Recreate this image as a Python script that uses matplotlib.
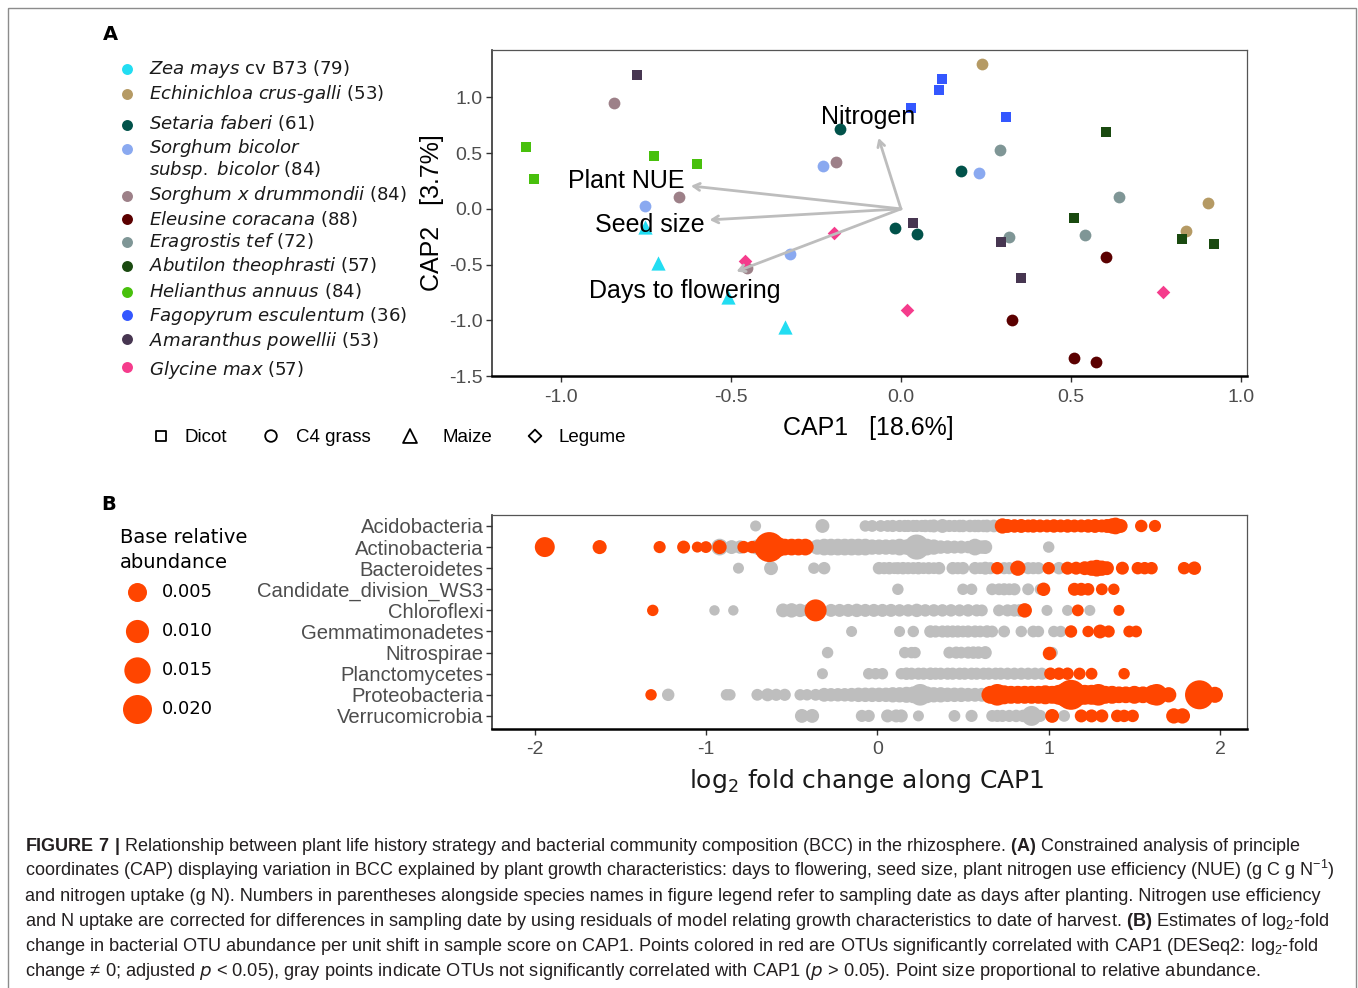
import numpy as np
import matplotlib
matplotlib.use("Agg")
import matplotlib.pyplot as plt
from matplotlib import font_manager
from matplotlib.patches import Rectangle

## panel A: CAP sample scores

zea_cap1 = [-0.753, -0.716, -0.509, -0.341]
zea_cap2 = [-0.161, -0.484, -0.789, -1.058]
echin_cap1 = [0.237, 0.902, 0.838]
echin_cap2 = [1.300, 0.054, -0.195]
setaria_cap1 = [-0.179, 0.176, -0.018, 0.046]
setaria_cap2 = [0.717, 0.341, -0.170, -0.224]
sbicolor_cap1 = [-0.754, -0.230, 0.229, -0.327]
sbicolor_cap2 = [0.030, 0.388, 0.326, -0.404]
sdrumm_cap1 = [-0.844, -0.191, -0.654, -0.454]
sdrumm_cap2 = [0.951, 0.422, 0.108, -0.529]
eleusine_cap1 = [0.602, 0.326, 0.509, 0.574]
eleusine_cap2 = [-0.430, -0.996, -1.336, -1.370]
eragrostis_cap1 = [0.290, 0.641, 0.318, 0.540]
eragrostis_cap2 = [0.529, 0.110, -0.248, -0.233]
abutilon_cap1 = [0.602, 0.509, 0.826, 0.921]
abutilon_cap2 = [0.691, -0.078, -0.269, -0.314]
helianthus_cap1 = [-1.104, -1.080, -0.726, -0.599]
helianthus_cap2 = [0.559, 0.269, 0.475, 0.404]
fagopyrum_cap1 = [0.029, 0.113, 0.121, 0.310]
fagopyrum_cap2 = [0.908, 1.067, 1.169, 0.825]
amaranthus_cap1 = [-0.776, 0.034, 0.294, 0.352]
amaranthus_cap2 = [1.202, -0.126, -0.296, -0.619]
glycine_cap1 = [-0.459, -0.197, 0.018, 0.772]
glycine_cap2 = [-0.466, -0.213, -0.912, -0.742]

species_cap1 = [zea_cap1, echin_cap1, setaria_cap1, sbicolor_cap1, sdrumm_cap1, eleusine_cap1,
                eragrostis_cap1, abutilon_cap1, helianthus_cap1, fagopyrum_cap1, amaranthus_cap1, glycine_cap1]
species_cap2 = [zea_cap2, echin_cap2, setaria_cap2, sbicolor_cap2, sdrumm_cap2, eleusine_cap2,
                eragrostis_cap2, abutilon_cap2, helianthus_cap2, fagopyrum_cap2, amaranthus_cap2, glycine_cap2]
species_colors = ["#22DDF2", "#B59A64", "#01524A", "#8AA9F0", "#9D8088", "#5B0000",
                  "#7F9696", "#1A4A10", "#48C00C", "#3457FF", "#473651", "#F53C8C"]
species_groups = ["Maize", "C4 grass", "C4 grass", "C4 grass", "C4 grass", "C4 grass",
                  "C4 grass", "Dicot", "Dicot", "Dicot", "Dicot", "Legume"]
species_labels = [
    [r"$\mathit{Zea\ mays}$ cv B73 (79)"],
    [r"$\mathit{Echinichloa\ crus}$-$\mathit{galli}$ (53)"],
    [r"$\mathit{Setaria\ faberi}$ (61)"],
    [r"$\mathit{Sorghum\ bicolor}$", r"$\mathit{subsp.\ bicolor}$ (84)"],
    [r"$\mathit{Sorghum\ x\ drummondii}$ (84)"],
    [r"$\mathit{Eleusine\ coracana}$ (88)"],
    [r"$\mathit{Eragrostis\ tef}$ (72)"],
    [r"$\mathit{Abutilon\ theophrasti}$ (57)"],
    [r"$\mathit{Helianthus\ annuus}$ (84)"],
    [r"$\mathit{Fagopyrum\ esculentum}$ (36)"],
    [r"$\mathit{Amaranthus\ powellii}$ (53)"],
    [r"$\mathit{Glycine\ max}$ (57)"],
]

group_names = ["Dicot", "C4 grass", "Maize", "Legume"]
group_markers = ["s", "o", "^", "D"]

# biplot vectors of the growth characteristics
arrow_names = ["Nitrogen", "Plant NUE", "Seed size", "Days to flowering"]
arrow_cap1 = [-0.066, -0.618, -0.563, -0.484]
arrow_cap2 = [0.637, 0.206, -0.099, -0.562]
arrow_label_cap1 = [-0.097, -0.809, -0.738, -0.635]
arrow_label_cap2 = [0.825, 0.251, -0.143, -0.735]

## panel B: log2 fold change along CAP1, (estimate, base relative abundance)

phyla = ["Acidobacteria", "Actinobacteria", "Bacteroidetes", "Candidate_division_WS3", "Chloroflexi",
         "Gemmatimonadetes", "Nitrospirae", "Planctomycetes", "Proteobacteria", "Verrucomicrobia"]

acido_grey = [(-0.71, 0.0002), (-0.32, 0.0012), (-0.07, 0.0003), (-0.03, 0.0004), (0.02, 0.0004),
              (0.06, 0.0004), (0.09, 0.0005), (0.13, 0.0005), (0.16, 0.0005), (0.18, 0.0005),
              (0.21, 0.0005), (0.23, 0.0005), (0.26, 0.0005), (0.28, 0.0006), (0.31, 0.0006),
              (0.33, 0.0008), (0.38, 0.0012), (0.42, 0.0005), (0.45, 0.0005), (0.48, 0.0006),
              (0.50, 0.0006), (0.54, 0.0006), (0.57, 0.0006), (0.59, 0.0006), (0.62, 0.0006),
              (0.64, 0.0007), (0.68, 0.0007)]
acido_red = [(0.73, 0.002), (0.76, 0.0012), (0.80, 0.001), (0.84, 0.0012), (0.88, 0.0008), (0.91, 0.001),
             (0.95, 0.0008), (0.99, 0.0008), (1.03, 0.001), (1.07, 0.0008), (1.11, 0.001), (1.15, 0.0008),
             (1.19, 0.0008), (1.23, 0.001), (1.27, 0.0012), (1.31, 0.0008), (1.34, 0.0012), (1.37, 0.002),
             (1.39, 0.003), (1.42, 0.0012), (1.54, 0.0006), (1.62, 0.0005)]

actino_grey = [(-0.92, 0.003), (-0.85, 0.0012), (-0.80, 0.001), (-0.70, 0.002), (-0.60, 0.002),
               (-0.35, 0.002), (-0.31, 0.003), (-0.27, 0.003), (-0.23, 0.003), (-0.19, 0.003),
               (-0.15, 0.003), (-0.11, 0.003), (-0.07, 0.003), (-0.03, 0.002), (0.01, 0.002),
               (0.05, 0.002), (0.09, 0.002), (0.13, 0.003), (0.17, 0.002), (0.20, 0.004),
               (0.23, 0.013), (0.29, 0.003), (0.33, 0.002), (0.37, 0.001), (0.41, 0.001),
               (0.45, 0.0008), (0.49, 0.0008), (0.53, 0.0006), (0.57, 0.003), (0.61, 0.001),
               (0.63, 0.0012), (1.00, 0.0003)]
actino_red = [(-1.94, 0.006), (-1.62, 0.0013), (-1.27, 0.0005), (-1.13, 0.0008), (-1.05, 0.0002),
              (-1.00, 0.0004), (-0.92, 0.0013), (-0.78, 0.0006), (-0.73, 0.0006), (-0.69, 0.001),
              (-0.66, 0.004), (-0.63, 0.022), (-0.58, 0.006), (-0.54, 0.003), (-0.50, 0.003),
              (-0.46, 0.003), (-0.42, 0.003)]

bactero_grey = [(-0.81, 0.0002), (-0.62, 0.0012), (-0.37, 0.0003), (-0.31, 0.0006), (0.01, 0.0006),
                (0.04, 0.0005), (0.07, 0.0006), (0.10, 0.0004), (0.12, 0.0005), (0.15, 0.0006),
                (0.18, 0.0005), (0.21, 0.0005), (0.24, 0.0006), (0.27, 0.0004), (0.30, 0.0005),
                (0.33, 0.0004), (0.36, 0.0006), (0.44, 0.0006), (0.47, 0.0005), (0.50, 0.0006),
                (0.57, 0.0006), (0.60, 0.0004), (0.63, 0.0008), (0.66, 0.0005), (0.74, 0.0005),
                (0.77, 0.0005), (0.88, 0.0005), (0.91, 0.0005), (0.94, 0.0005), (1.06, 0.0006)]
bactero_red = [(0.70, 0.0006), (0.82, 0.002), (1.00, 0.0006), (1.11, 0.0008), (1.16, 0.0008),
               (1.21, 0.0012), (1.25, 0.002), (1.28, 0.003), (1.31, 0.002), (1.34, 0.0012),
               (1.43, 0.0008), (1.52, 0.0006), (1.56, 0.0006), (1.60, 0.0006), (1.79, 0.0006),
               (1.85, 0.001)]

ws3_grey = [(0.12, 0.0003), (0.50, 0.0003), (0.55, 0.0003), (0.67, 0.0004), (0.71, 0.0004),
            (0.74, 0.0005), (0.77, 0.0004), (0.80, 0.0005), (0.88, 0.0004), (0.95, 0.0002)]
ws3_red = [(0.97, 0.001), (1.15, 0.0008), (1.19, 0.0008), (1.23, 0.0006), (1.31, 0.0004), (1.38, 0.0003)]

chloro_grey = [(-0.95, 0.0001), (-0.84, 0.0001), (-0.55, 0.0012), (-0.50, 0.0015), (-0.45, 0.001),
               (-0.40, 0.001), (-0.27, 0.0008), (-0.22, 0.0008), (-0.17, 0.0008), (-0.12, 0.001),
               (-0.07, 0.0008), (-0.02, 0.0008), (0.03, 0.0008), (0.08, 0.0008), (0.13, 0.0006),
               (0.18, 0.0006), (0.23, 0.001), (0.28, 0.0006), (0.33, 0.0006), (0.38, 0.0006),
               (0.43, 0.0006), (0.48, 0.0005), (0.53, 0.0006), (0.58, 0.0005), (0.61, 0.0004),
               (0.71, 0.0004), (0.76, 0.0005), (0.80, 0.0006), (0.83, 0.0006), (0.99, 0.0002),
               (1.11, 0.0002), (1.24, 0.0002)]
chloro_red = [(-1.31, 0.0003), (-0.36, 0.0085), (0.86, 0.0015), (1.17, 0.0004), (1.41, 0.0002)]

gemma_grey = [(-0.15, 0.0002), (0.13, 0.0002), (0.21, 0.0003), (0.31, 0.0006), (0.34, 0.0005),
              (0.38, 0.0005), (0.41, 0.0005), (0.44, 0.0005), (0.47, 0.0005), (0.50, 0.0004),
              (0.53, 0.0005), (0.57, 0.0005), (0.60, 0.0004), (0.64, 0.0006), (0.67, 0.0004),
              (0.74, 0.0004), (0.84, 0.0003), (0.91, 0.0004), (0.94, 0.0003), (1.03, 0.0003),
              (1.07, 0.0003)]
gemma_red = [(1.13, 0.0006), (1.23, 0.0003), (1.30, 0.0012), (1.35, 0.0005), (1.47, 0.0004), (1.51, 0.0004)]

nitro_grey = [(-0.29, 0.0003), (0.16, 0.0003), (0.20, 0.0003), (0.22, 0.0003), (0.42, 0.0004),
              (0.46, 0.0005), (0.49, 0.0004), (0.53, 0.0005), (0.56, 0.0006), (0.59, 0.0006),
              (0.63, 0.0008), (1.02, 0.0003)]
nitro_red = [(1.00, 0.001)]

planc_grey = [(-0.32, 0.0002), (-0.05, 0.0003), (-0.01, 0.0003), (0.03, 0.0003), (0.14, 0.0003),
              (0.17, 0.0006), (0.20, 0.0005), (0.24, 0.0005), (0.27, 0.0005), (0.31, 0.0006),
              (0.34, 0.0005), (0.37, 0.0005), (0.41, 0.0005), (0.44, 0.0005), (0.48, 0.0005),
              (0.51, 0.0005), (0.55, 0.0005), (0.58, 0.0005), (0.62, 0.0005), (0.65, 0.0005),
              (0.69, 0.0005), (0.72, 0.0005), (0.76, 0.0005), (0.80, 0.0005), (0.84, 0.0005),
              (0.88, 0.0005), (0.92, 0.0005), (0.96, 0.0005)]
planc_red = [(1.01, 0.0006), (1.06, 0.0006), (1.11, 0.0006), (1.18, 0.0005), (1.25, 0.0004), (1.44, 0.0003)]

proteo_grey = [(-1.22, 0.0006), (-0.88, 0.0003), (-0.86, 0.0003), (-0.70, 0.0004), (-0.64, 0.0008),
               (-0.59, 0.0005), (-0.54, 0.0005), (-0.45, 0.0003), (-0.41, 0.0003), (-0.36, 0.0004),
               (-0.31, 0.0012), (-0.27, 0.001), (-0.23, 0.001), (-0.19, 0.001), (-0.15, 0.0012),
               (-0.11, 0.0015), (-0.07, 0.0015), (-0.03, 0.0015), (0.01, 0.0015), (0.05, 0.0015),
               (0.09, 0.002), (0.13, 0.002), (0.17, 0.0025), (0.21, 0.003), (0.25, 0.008),
               (0.29, 0.003), (0.33, 0.002), (0.37, 0.002), (0.41, 0.0015), (0.45, 0.0015),
               (0.49, 0.0015), (0.53, 0.0012), (0.57, 0.0012), (0.61, 0.0012), (0.65, 0.001)]
proteo_red = [(-1.32, 0.0003), (0.66, 0.004), (0.70, 0.008), (0.74, 0.005), (0.78, 0.004), (0.82, 0.004),
              (0.86, 0.004), (0.90, 0.004), (0.94, 0.004), (0.98, 0.005), (1.02, 0.004), (1.06, 0.006),
              (1.10, 0.012), (1.13, 0.022), (1.17, 0.008), (1.21, 0.006), (1.25, 0.006), (1.29, 0.008),
              (1.33, 0.004), (1.37, 0.004), (1.41, 0.003), (1.45, 0.003), (1.50, 0.004), (1.55, 0.003),
              (1.61, 0.006), (1.63, 0.008), (1.70, 0.002), (1.88, 0.020), (1.97, 0.0025)]

verruco_grey = [(-0.44, 0.0012), (-0.38, 0.0012), (-0.09, 0.0005), (-0.05, 0.0005), (0.06, 0.0008),
                (0.11, 0.0008), (0.14, 0.0008), (0.24, 0.0002), (0.45, 0.0004), (0.55, 0.0005),
                (0.67, 0.0004), (0.70, 0.0005), (0.73, 0.0005), (0.77, 0.0005), (0.81, 0.0006),
                (0.85, 0.0006), (0.90, 0.006), (0.95, 0.0005), (1.09, 0.0004)]
verruco_red = [(1.02, 0.0012), (1.19, 0.0008), (1.25, 0.0008), (1.31, 0.0008), (1.40, 0.0006),
               (1.44, 0.0006), (1.49, 0.0006), (1.73, 0.002), (1.78, 0.002)]

phyla_grey = [acido_grey, actino_grey, bactero_grey, ws3_grey, chloro_grey,
              gemma_grey, nitro_grey, planc_grey, proteo_grey, verruco_grey]
phyla_red = [acido_red, actino_red, bactero_red, ws3_red, chloro_red,
             gemma_red, nitro_red, planc_red, proteo_red, verruco_red]

size_breaks = [0.005, 0.010, 0.015, 0.020]
size_labels = ["0.005", "0.010", "0.015", "0.020"]

caption_lines = [
    r"$\mathbf{FIGURE\ 7\ |}$ Relationship between plant life history strategy and bacterial community composition (BCC) in the rhizosphere. $\mathbf{(A)}$ Constrained analysis of principle",
    r"coordinates (CAP) displaying variation in BCC explained by plant growth characteristics: days to flowering, seed size, plant nitrogen use efficiency (NUE) (g C g N$^{\mathregular{-1}}$)",
    r"and nitrogen uptake (g N). Numbers in parentheses alongside species names in figure legend refer to sampling date as days after planting. Nitrogen use efficiency",
    r"and N uptake are corrected for differences in sampling date by using residuals of model relating growth characteristics to date of harvest. $\mathbf{(B)}$ Estimates of log$_{\mathregular{2}}$-fold",
    r"change in bacterial OTU abundance per unit shift in sample score on CAP1. Points colored in red are OTUs significantly correlated with CAP1 (DESeq2: log$_{\mathregular{2}}$-fold",
    r"change ≠ 0; adjusted $p$ < 0.05), gray points indicate OTUs not significantly correlated with CAP1 ($p$ > 0.05). Point size proportional to relative abundance.",
]
caption_right = [1300, 1335, 1317, 1328, 1312, 1258]


def has_font(name):
    try:
        font_manager.findfont(font_manager.FontProperties(family=name), fallback_to_default=False)
        return True
    except ValueError:
        return False


cap_family = "Liberation Sans Narrow" if has_font("Liberation Sans Narrow") else "Liberation Sans"
sans = "Liberation Sans"
plt.rcParams.update({
    "mathtext.fontset": "custom",
    "mathtext.it": "DejaVu Sans:italic",
    "mathtext.bf": cap_family + ":bold",
    "mathtext.rm": cap_family,
})


def dot_area(a):
    # ggplot area scale: diameter linear in sqrt(abundance)
    d_px = 9 + 141.4 * np.sqrt(np.asarray(a))
    return (d_px * 0.72) ** 2


W, H = 1358, 988
fig = plt.figure(figsize=(W / 100, H / 100), dpi=100)
renderer = fig.canvas.get_renderer()


def axes_px(x0, y0, x1, y1):
    return fig.add_axes([x0 / W, 1 - y1 / H, (x1 - x0) / W, (y1 - y0) / H])


def style_axes(ax):
    for side in ["top", "right"]:
        ax.spines[side].set_color("#555555")
        ax.spines[side].set_linewidth(0.9)
    ax.spines["left"].set_color("#333333")
    ax.spines["left"].set_linewidth(1.2)
    ax.spines["bottom"].set_color("black")
    ax.spines["bottom"].set_linewidth(1.8)
    ax.tick_params(length=4, width=1, color="#333333", labelcolor="#4D4D4D", labelsize=14, pad=3)
    ax.tick_params(axis="x", pad=5)
    for lab in ax.get_xticklabels() + ax.get_yticklabels():
        lab.set_family(sans)


## panel A
ax = axes_px(492, 50, 1247, 376)
for xs, ys, col, grp in zip(species_cap1, species_cap2, species_colors, species_groups):
    m = group_markers[group_names.index(grp)]
    sz = {"s": 62, "o": 72, "^": 105, "D": 48}[m]
    ax.scatter(xs, ys, marker=m, s=sz, color=col, linewidths=0, zorder=2)
for name, ux, uy, lx, ly in zip(arrow_names, arrow_cap1, arrow_cap2, arrow_label_cap1, arrow_label_cap2):
    ax.annotate("", xy=(ux, uy), xytext=(0, 0),
                arrowprops=dict(arrowstyle="->,head_length=0.45,head_width=0.25", color="#BDBDBD",
                                lw=2, shrinkA=0, shrinkB=0), zorder=3)
    ax.text(lx, ly, name, ha="center", va="center", fontsize=18, family=sans, color="black", zorder=4)
ax.set_xlim(-1.203, 1.018)
ax.set_ylim(-1.5, 1.426)
ax.set_xticks([-1.0, -0.5, 0.0, 0.5, 1.0])
ax.set_yticks([-1.5, -1.0, -0.5, 0.0, 0.5, 1.0])
ax.set_xticklabels(["-1.0", "-0.5", "0.0", "0.5", "1.0"])
ax.set_yticklabels(["-1.5", "-1.0", "-0.5", "0.0", "0.5", "1.0"])
style_axes(ax)

## panel B
bx = axes_px(492, 515, 1247, 729)
for i, pts in enumerate(phyla_grey):
    xs = [p[0] for p in pts]
    bx.scatter(xs, [i] * len(xs), s=dot_area([p[1] for p in pts]), color="#BEBEBE", linewidths=0, zorder=2)
for i, pts in enumerate(phyla_red):
    xs = [p[0] for p in pts]
    bx.scatter(xs, [i] * len(xs), s=dot_area([p[1] for p in pts]), color="#FF4500", linewidths=0, zorder=3)
bx.set_xlim(-2.248, 2.157)
bx.set_ylim(9.62, -0.52)
bx.set_xticks([-2, -1, 0, 1, 2])
bx.set_xticklabels(["-2", "-1", "0", "1", "2"])
bx.set_yticks(range(len(phyla)))
bx.set_yticklabels(phyla)
style_axes(bx)
bx.tick_params(axis="y", labelsize=14.6, pad=2)

## overlay for legends, labels, frame and caption (pixel coordinates)
lax = fig.add_axes([0, 0, 1, 1])
lax.set_xlim(0, W)
lax.set_ylim(H, 0)
lax.axis("off")

lax.text(103, 35, "A", fontsize=14, fontweight="bold", family="DejaVu Sans", va="center")
lax.text(101, 504, "B", fontsize=14, fontweight="bold", family="DejaVu Sans", va="center")

marker_y = [69, 94, 125, 149, 196, 219, 242, 266, 292, 315, 339, 367]
text_y = [[69], [94], [123], [148, 170], [195], [219], [242], [266], [291], [316], [341], [370]]
for col, my, lbls, tys in zip(species_colors, marker_y, species_labels, text_y):
    lax.scatter([127], [my], s=62, color=col, linewidths=0)
    for lbl, ty in zip(lbls, tys):
        lax.text(149, ty, lbl, fontsize=13.1, family="DejaVu Sans", color="#1A1A1A", va="center")

lax.text(432, 213, "CAP2   [3.7%]", rotation=90, fontsize=18, family=sans, ha="center", va="center")
lax.text(868, 428, "CAP1   [18.6%]", fontsize=18, family=sans, ha="center", va="center")

shape_x = [161, 271, 410, 535]
shape_text_x = [185, 296, 443, 558]
shape_sz = {"s": 55, "o": 70, "^": 100, "D": 42}
for gx, tx, g, m in zip(shape_x, shape_text_x, group_names, group_markers):
    lax.scatter([gx], [436], marker=m, s=shape_sz[m], facecolors="none", edgecolors="black", linewidths=1.3)
    lax.text(tx, 437, g, fontsize=13.5, family=sans, va="center")

lax.text(120, 537, "Base relative", fontsize=14, family="DejaVu Sans", va="center")
lax.text(120, 562, "abundance", fontsize=14, family="DejaVu Sans", va="center")
for k, (b, lb) in enumerate(zip(size_breaks, size_labels)):
    yy = 592 + 39 * k
    lax.scatter([137], [yy], s=dot_area(b), color="#FF4500", linewidths=0)
    lax.text(162, yy, lb, fontsize=13, family="DejaVu Sans", va="center")

lax.text(867, 781, r"log$_{\mathregular{2}}$ fold change along CAP1", fontsize=18,
         family="DejaVu Sans", ha="center", va="center", color="#1A1A1A")

lax.add_patch(Rectangle((8, 8), 1348, 995, fill=False, ec="#8C8C8C", lw=1, clip_on=False))

for i, (s, r) in enumerate(zip(caption_lines, caption_right)):
    t = lax.text(25, 851 + 25 * i, s, fontsize=12, family=[cap_family, "DejaVu Sans"],
                 color="#231F20", va="baseline")
    w = t.get_window_extent(renderer).width
    t.set_fontsize(12 * (r - 25) / w)

fig.savefig("out.png", dpi=100)
